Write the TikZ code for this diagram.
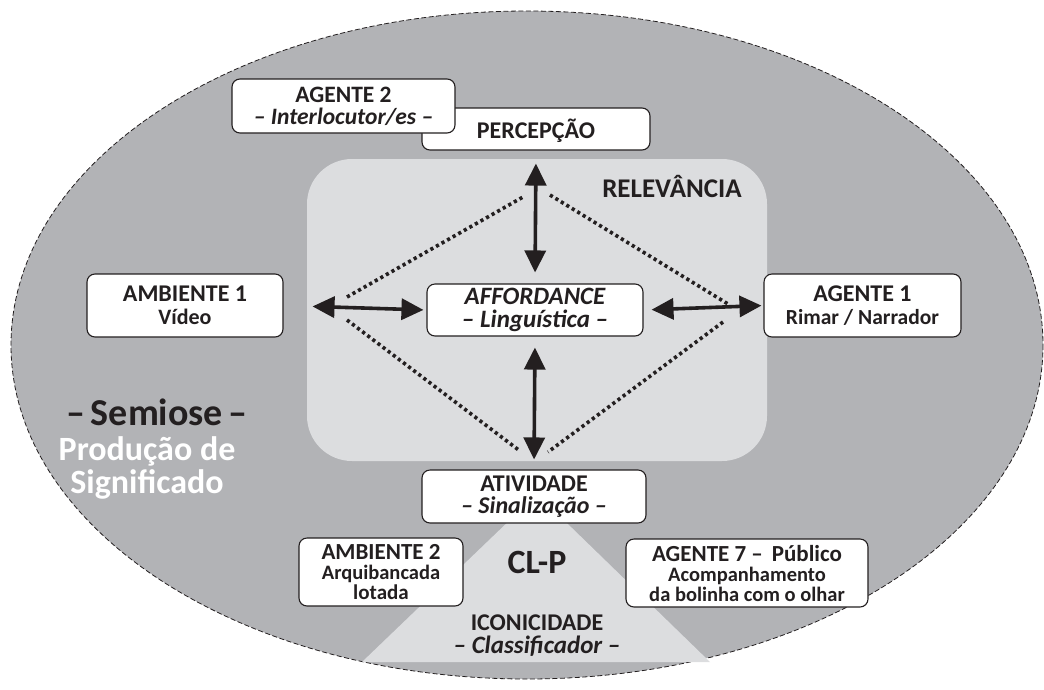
\documentclass[tikz,border=0pt]{standalone}
\usepackage{fontspec}
\setmainfont{Carlito}
\usetikzlibrary{arrows.meta}
\definecolor{outergray}{HTML}{B2B3B6}
\definecolor{innergray}{HTML}{DCDDDF}
\definecolor{ink}{HTML}{231F20}
\newcommand\mysz[2]{\fontsize{#1}{#2}\selectfont\lineskiplimit=-50pt\relax}
\tikzset{
  box/.style={draw=ink, line width=1.1pt, fill=white, rounded corners=8pt,
    inner sep=0pt, align=center, text=ink},
  dbl/.style={draw=ink, line width=3.6pt,
    {Triangle[length=22pt,width=21pt]}-{Triangle[length=22pt,width=21pt]}},
  dots/.style={draw=ink, line width=3.6pt, dash pattern=on 3.2pt off 3.2pt},
  lbl/.style={text=ink, inner sep=0pt, align=center},
}
\begin{document}
\begin{tikzpicture}[x=1pt,y=-1pt]
\useasboundingbox (0,0) rectangle (1044,689);
% outer ellipse
\draw[fill=outergray, draw=ink, line width=0.8pt, dash pattern=on 5pt off 2.5pt]
  (527,345) ellipse [x radius=516, y radius=334];
% relevance region
\fill[innergray, rounded corners=45pt] (307,159) rectangle (767,461);
% triangle
\fill[innergray] (537,494) -- (710,662) -- (362,662) -- cycle;
% dotted diamond
\draw[dots] (347,297) -- (523,197);
\draw[dots] (550,195) -- (728,304);
\draw[dots] (347,320) -- (520,451);
\draw[dots] (723,322) -- (548,452);
% labels
\node[lbl, font=\bfseries\mysz{27}{27}] (rel) at (672,186) {RELEVÂNCIA};
\node[lbl, font=\bfseries\mysz{38}{38}] (sem) at (157,412) {–\hspace{6pt}Semiose\hspace{6pt}–};
\node[lbl, text=white, font=\bfseries\mysz{34}{33}] (prod) at (147,468) {Produção de\\Significado};
\node[lbl, font=\bfseries\mysz{34}{36}] (clp) at (537,562) {CL-P};
\node[lbl, font=\bfseries\mysz{24}{23}] (icon) at (537,636) {ICONICIDADE\\{\mysz{25}{23}\itshape – Classificador –}};
% boxes
\node[box, minimum width=228pt, minimum height=42pt, text depth=0pt,
  font=\bfseries\mysz{24}{24}] (perc) at (536,129) {PERCEPÇÃO};
\node[box, minimum width=223pt, minimum height=54pt,
  font=\bfseries\mysz{23.5}{22}] (ag2) at (343.5,106) {AGENTE 2\\{\itshape – Interlocutor/es –}};
\node[box, minimum width=196pt, minimum height=63pt,
  font=\bfseries\mysz{24}{23.5}] (amb1) at (185,305.5) {AMBIENTE 1\\{\mysz{22}{23.5}Vídeo}};
\node[box, minimum width=197pt, minimum height=63pt,
  font=\bfseries\mysz{24}{23.5}] (ag1) at (862.5,305.5) {AGENTE 1\\{\mysz{21.5}{23.5}Rimar / Narrador}};
\node[box, minimum width=216pt, minimum height=52pt,
  font=\bfseries\itshape\mysz{25}{23}] (aff) at (535,310) {AFFORDANCE\\– Linguística –};
\node[box, minimum width=224pt, minimum height=53pt,
  font=\bfseries\mysz{24}{22}] (ativ) at (534,496.5) {ATIVIDADE\\{\itshape – Sinalização –}};
\node[box, minimum width=164pt, minimum height=68pt,
  font=\bfseries\mysz{23}{20}] (amb2) at (381,572) {AMBIENTE 2\\{\mysz{20.5}{20}Arquibancada}\\{\mysz{21}{20}lotada}};
\node[box, minimum width=242pt, minimum height=68pt,
  font=\bfseries\mysz{23}{20}] (ag7) at (747,573) {AGENTE 7 –\hspace{9pt}Público\\{\mysz{20.5}{20}Acompanhamento}\\{\mysz{20.5}{20}da bolinha com o olhar}};
% arrows
\draw[dbl, shorten <=29pt, shorten >=3pt] (amb1.east) -- (aff.west);
\draw[dbl, shorten <=8pt, shorten >=2pt] (aff.east) -- (ag1.west);
\draw[dbl, shorten <=13pt, shorten >=11pt] (perc.south) -- (aff.north);
\draw[dbl, shorten <=11pt, shorten >=10pt] (aff.south) -- (ativ.north);
\end{tikzpicture}
\end{document}
